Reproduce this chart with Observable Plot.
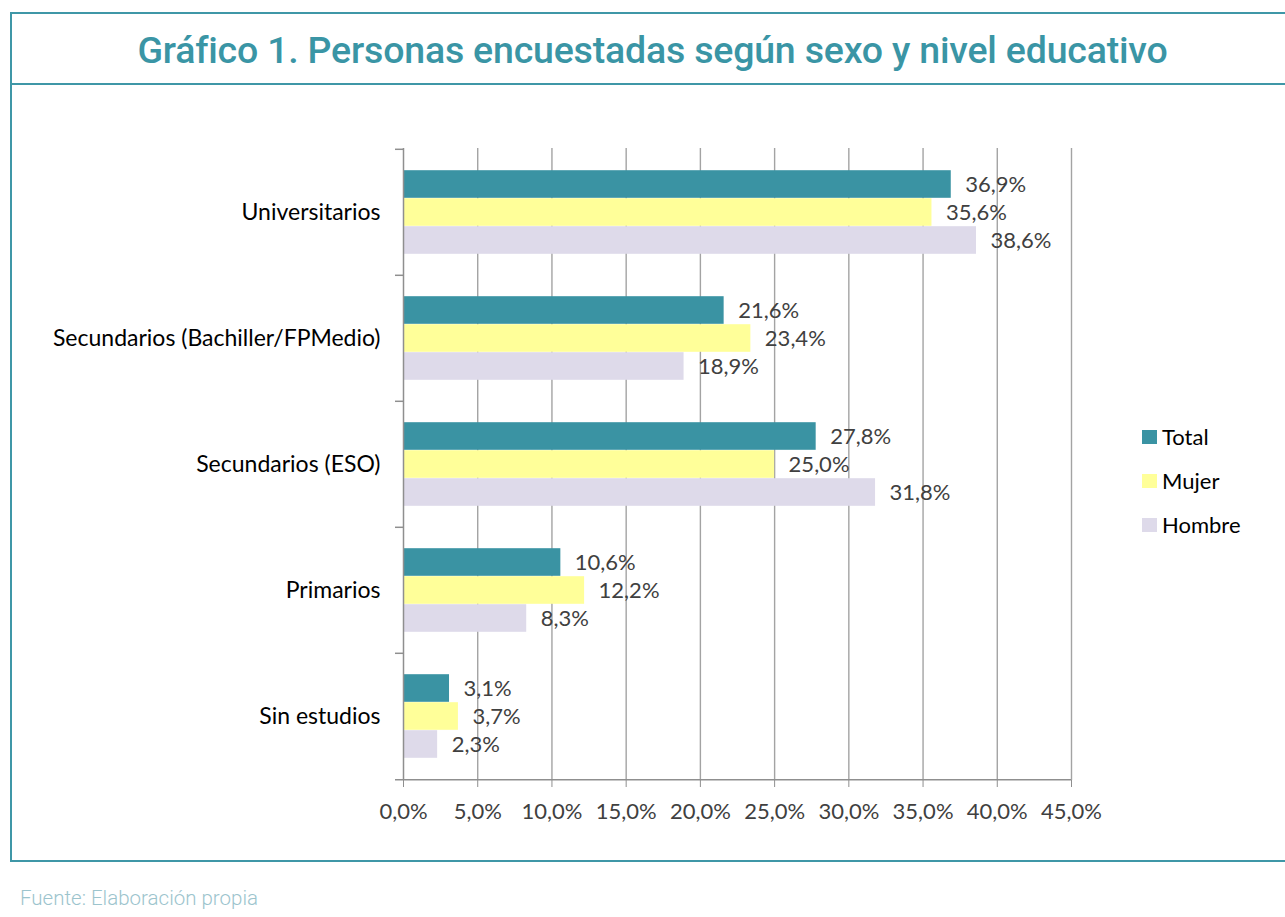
<!DOCTYPE html>
<html>
<head>
<meta charset="utf-8">
<script src="https://cdn.jsdelivr.net/npm/d3@7"></script>
<script src="https://cdn.jsdelivr.net/npm/@observablehq/plot@0.6"></script>
<style>
  html, body { margin: 0; padding: 0; background: #fff; }
  body { width: 1285px; height: 917px; position: relative; overflow: hidden; }
  .box { position: absolute; left: 10px; top: 12px; width: 1300px; height: 850px; border: 2px solid #3f97a7; border-right: none; box-sizing: border-box; }
  .sep { position: absolute; left: 10px; top: 83px; width: 1300px; height: 0; border-top: 2px solid #3f97a7; }
  .title { position: absolute; left: 10px; top: 14px; width: 1285px; height: 72px; line-height: 72px; text-align: center; font-family: Roboto, sans-serif; font-weight: 500; font-size: 37.5px; color: #3a95a5; letter-spacing: -0.2px; }
  .foot { position: absolute; left: 20px; top: 886px; font-family: Roboto, sans-serif; font-weight: 300; font-size: 20.5px; color: #9cc4cd; }
  #chart { position: absolute; left: 0; top: 100px; }
  .legend { position: absolute; left: 1142px; top: 423px; font-family: Lato, sans-serif; font-size: 22px; color: #000; }
  .legend div { height: 44px; display: flex; align-items: flex-start; }
  .legend span.sw { display: inline-block; width: 15px; height: 14px; margin-right: 5px; margin-top: 7px; }
</style>
</head>
<body>
<div class="box"></div>
<div class="sep"></div>
<div class="title">Gráfico 1. Personas encuestadas según sexo y nivel educativo</div>
<div id="chart"></div>
<div class="legend" id="legend"></div>
<div class="foot">Fuente: Elaboración propia</div>
<script>
const categories = ["Universitarios", "Secundarios (Bachiller/FPMedio)", "Secundarios (ESO)", "Primarios", "Sin estudios"];
const series = ["Total", "Mujer", "Hombre"];
const totalValues = [36.9, 21.6, 27.8, 10.6, 3.1];
const mujerValues = [35.6, 23.4, 25.0, 12.2, 3.7];
const hombreValues = [38.6, 18.9, 31.8, 8.3, 2.3];
const xTicks = [0, 5, 10, 15, 20, 25, 30, 35, 40, 45];
const colors = ["#3a93a3", "#ffff99", "#dedaea"];

const seriesValues = [totalValues, mujerValues, hombreValues];
const rows = [];
series.forEach((s, i) => categories.forEach((c, j) => rows.push({category: c, series: s, si: i, value: seriesValues[i][j]})));

const W = 1285, H = 740, mt = 48, mb = 60, ml = 403, mr = 214;
const bw = (H - mt - mb) / categories.length;
const barH = 28;
const pad = (bw - 3 * barH) / 2;
const fmt = d => d.toFixed(1).replace(".", ",") + "%";

const marks = [
  Plot.gridX(xTicks.slice(1), {stroke: "#a3a3a3", strokeOpacity: 1, strokeWidth: 1.4})
];
series.forEach((s, i) => {
  const data = rows.filter(r => r.series === s);
  marks.push(Plot.barX(data, {
    x: "value", y: "category", fill: colors[i],
    insetTop: pad + i * barH, insetBottom: bw - pad - (i + 1) * barH
  }));
  marks.push(Plot.text(data, {
    x: "value", y: "category", text: d => fmt(d.value),
    dy: -bw / 2 + pad + (i + 0.5) * barH, dx: 14, textAnchor: "start",
    fill: "#404040", fontSize: 22
  }));
});
marks.push(
  Plot.ruleX([0], {stroke: "#8f8f8f", strokeWidth: 1.5}),
  Plot.ruleY(categories, {y: d => d, dy: -bw / 2, insetLeft: -8, insetRight: W - ml - mr, stroke: "#8f8f8f", strokeWidth: 1.5}),
  Plot.ruleY(categories.slice(-1), {y: d => d, dy: bw / 2, insetLeft: -8, stroke: "#8f8f8f", strokeWidth: 1.5}),
  Plot.axisX(xTicks, {tickSize: 7, tickPadding: 16, tickFormat: fmt, stroke: "#8f8f8f", fill: "#404040", fontSize: 22, label: null}),
  Plot.axisY(categories, {tickSize: 0, tickPadding: 23, fill: "#000", fontSize: 23, label: null})
);

const chart = Plot.plot({
  width: W, height: H,
  marginTop: mt, marginBottom: mb, marginLeft: ml, marginRight: mr,
  x: {domain: [0, 45], axis: null, label: null},
  y: {domain: categories, padding: 0, axis: null, label: null},
  style: {fontFamily: "Lato, sans-serif", fontSize: "22px", background: "transparent", color: "#404040"},
  marks
});
document.getElementById("chart").appendChild(chart);

const legend = document.getElementById("legend");
series.forEach((s, i) => {
  const row = document.createElement("div");
  const sw = document.createElement("span");
  sw.className = "sw";
  sw.style.background = colors[i];
  row.appendChild(sw);
  row.appendChild(document.createTextNode(s));
  legend.appendChild(row);
});
</script>
</body>
</html>
